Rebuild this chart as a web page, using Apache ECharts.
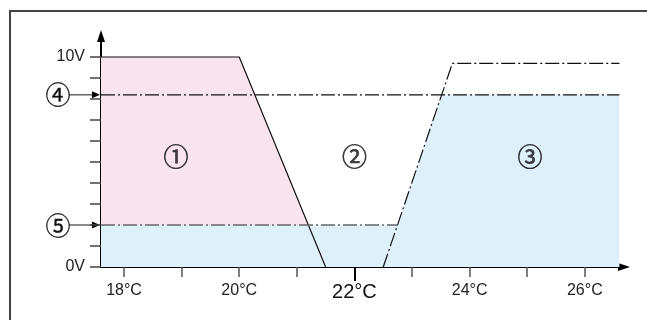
<!DOCTYPE html>
<html><head><meta charset="utf-8">
<script src="https://cdn.jsdelivr.net/npm/echarts@6/dist/echarts.min.js"></script>
<style>html,body{margin:0;padding:0;background:#fff}#c{width:647px;height:320px}</style>
</head><body><div id="c"></div>
<script>
// ---- data (°C, V) ----
const xMin = 17.6, xMax = 26.68, yMin = 0, yMax = 11;
const xTicks = [18, 19, 20, 21, 22, 23, 24, 25, 26];
const xLabels = [18, 20, 24, 26];
const xBigLabel = [22];
const yTicks = [0, 1, 2, 3, 4, 5, 6, 7, 8, 9, 10];
const yLabels = [0, 10];
const curve1 = [[17.6, 10], [20, 10], [21.5, 0]];          // solid
const curve3 = [[22.5, 0], [23.7, 9.7], [26.6, 9.7]];      // dash-dot
const level4 = [[17.6, 8.2], [26.6, 8.2]];                 // ④
const level5 = [[17.6, 2], [22.75, 2]];                    // ⑤
const blueArea = [[17.6, 2], [22.75, 2], [23.51, 8.2], [26.6, 8.2]];
const zoneLabels = [[18.9, 5.25, '①'], [22.0, 5.25, '②'], [25.05, 5.25, '③']];
const markers = [[8.2, '④'], [2, '⑤']];

const FONT = 'Liberation Sans, Arial, sans-serif';
const CIRC = 'Noto Sans CJK JP';
const dash = [14, 3, 2, 3];
const chart = echarts.init(document.getElementById('c'), null, {renderer: 'canvas'});
const option = {
  animation: false,
  grid: {left: 101, top: 36, right: 23, bottom: 53},
  xAxis: [{
    type: 'value', min: xMin, max: xMax,
    axisLine: {lineStyle: {color: '#000', width: 2}, symbol: ['none', 'triangle'], symbolSize: [8, 12]},
    axisTick: {customValues: xTicks, length: 10, lineStyle: {color: '#555', width: 1.5}},
    axisLabel: {customValues: xLabels, formatter: v => v + '°C', fontFamily: FONT, fontSize: 16, color: '#222', margin: 16},
    splitLine: {show: false}
  }, {
    type: 'value', min: xMin, max: xMax, position: 'bottom',
    axisLine: {show: false},
    axisTick: {customValues: xBigLabel, length: 14, lineStyle: {color: '#000', width: 2}},
    axisLabel: {customValues: xBigLabel, formatter: v => v + '°C', fontFamily: FONT, fontSize: 20, color: '#111', margin: 15},
    splitLine: {show: false}
  }],
  yAxis: {
    type: 'value', min: yMin, max: yMax,
    axisLine: {lineStyle: {color: '#000', width: 2}, symbol: ['none', 'triangle'], symbolSize: [8, 12]},
    axisTick: {customValues: yTicks, length: 11, lineStyle: {color: '#444', width: 1.5}},
    axisLabel: {customValues: yLabels, formatter: v => v + 'V', fontFamily: FONT, fontSize: 16, color: '#222', margin: 16},
    splitLine: {show: false}
  },
  series: [
    {type: 'line', data: curve1, symbol: 'none', lineStyle: {width: 0}, areaStyle: {color: '#f9e4ee', opacity: 1}, z: 1},
    {type: 'line', data: blueArea, symbol: 'none', lineStyle: {width: 0}, areaStyle: {color: '#def0fa', opacity: 1}, z: 2},
    {type: 'line', data: curve1, symbol: 'none', lineStyle: {color: '#111', width: 1.2}, z: 5},
    {type: 'line', data: curve3, symbol: 'none', lineStyle: {color: '#111', width: 1.2, type: dash}, z: 5},
    {type: 'line', data: level4, symbol: 'none', lineStyle: {color: '#111', width: 1.2, type: dash}, z: 5},
    {type: 'line', data: level5, symbol: 'none', lineStyle: {color: '#666', width: 1.5, type: dash}, z: 5},
    {type: 'scatter', data: zoneLabels, symbolSize: 0, z: 6,
      label: {show: true, position: 'inside', formatter: p => p.value[2], fontFamily: CIRC, fontSize: 25, color: '#111', textBorderColor: '#111', textBorderWidth: 0.6}}
  ]
};
chart.setOption(option);

const g = [{type: 'polyline', shape: {points: [[10, 330], [10, 11], [660, 11]]}, style: {stroke: '#444', lineWidth: 2, fill: null}, silent: true}];
markers.forEach(([v, t]) => {
  const p = chart.convertToPixel({xAxisIndex: 0, yAxisIndex: 0}, [xMin, v]);
  const x0 = p[0], y = p[1];
  g.push({type: 'line', shape: {x1: x0 - 32, y1: y, x2: x0 - 8, y2: y}, style: {stroke: '#666', lineWidth: 1.5}, silent: true});
  g.push({type: 'polygon', shape: {points: [[x0 - 9, y - 3.5], [x0 - 1, y], [x0 - 9, y + 3.5]]}, style: {fill: '#000'}, silent: true});
  g.push({type: 'text', x: x0 - 43, y: y, style: {text: t, fontFamily: CIRC, fontSize: 25, fill: '#111', stroke: '#111', lineWidth: 0.3, align: 'center', verticalAlign: 'middle'}, silent: true});
});
chart.setOption({graphic: g});
</script></body></html>
